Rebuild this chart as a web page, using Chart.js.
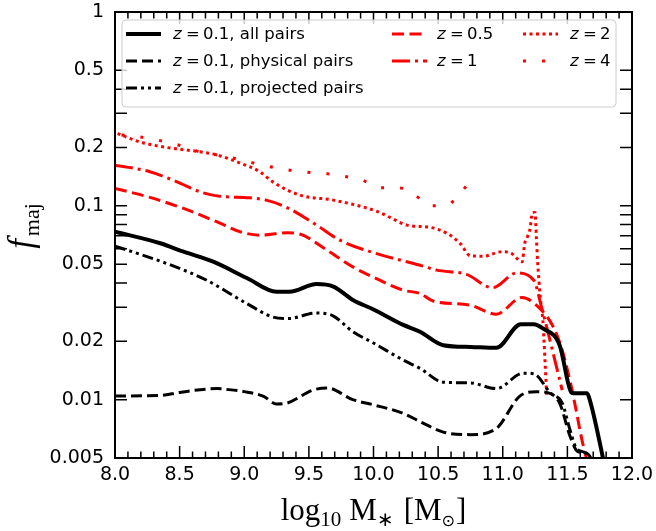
<!DOCTYPE html>
<html>
<head>
<meta charset="utf-8">
<script src="https://cdn.jsdelivr.net/npm/chart.js@4.4.1/dist/chart.umd.min.js"></script>
<style>
  html, body { margin: 0; padding: 0; background: #fff; }
  #wrap { width: 656px; height: 531px; }
</style>
</head>
<body>
<div id="wrap"><canvas id="chart" width="656" height="531"></canvas></div>
<script>
// 数据
const xTicks = [8.0, 8.5, 9.0, 9.5, 10.0, 10.5, 11.0, 11.5, 12.0]
const yTicks = [0.005, 0.01, 0.02, 0.05, 0.1, 0.2, 0.5, 1]
const yMinorTicks = [0.03, 0.04, 0.06, 0.07, 0.08, 0.09, 0.3, 0.4]

// z = 0.1, all pairs
const allX = [8.0, 8.35, 8.53, 8.76, 9.02, 9.25, 9.35, 9.56, 9.69, 9.84, 10.0, 10.23, 10.36, 10.54, 10.75, 10.95, 11.14, 11.24, 11.31, 11.44, 11.53, 11.545, 11.65, 11.665, 11.80]
const allF = [0.0735, 0.0641, 0.0580, 0.0515, 0.0424, 0.0360, 0.0360, 0.0395, 0.0383, 0.0327, 0.0292, 0.0243, 0.0224, 0.0191, 0.0187, 0.0185, 0.0245, 0.0245, 0.0233, 0.0191, 0.0109, 0.0108, 0.0108, 0.0104, 0.0042]

// z = 0.1, physical pairs
const physX = [8.0, 8.35, 8.5, 8.79, 8.86, 9.0, 9.15, 9.25, 9.33, 9.53, 9.64, 9.84, 10.0, 10.23, 10.36, 10.54, 10.75, 10.95, 11.13, 11.26, 11.34, 11.44, 11.52, 11.58, 11.65, 11.72]
const physF = [0.01045, 0.0105, 0.0109, 0.0114, 0.0113, 0.0110, 0.0104, 0.0095, 0.0096, 0.0112, 0.0115, 0.0100, 0.0094, 0.0085, 0.0077, 0.0068, 0.0066, 0.0071, 0.0104, 0.0110, 0.0109, 0.0096, 0.0065, 0.0054, 0.0053, 0.0045]

// z = 0.1, projected pairs
const projX = [8.0, 8.40, 8.71, 9.02, 9.22, 9.34, 9.56, 9.69, 9.84, 10.0, 10.23, 10.36, 10.54, 10.75, 10.95, 11.16, 11.24, 11.37, 11.46, 11.52, 11.57, 11.64, 11.70]
const projF = [0.0620, 0.0504, 0.0413, 0.0313, 0.0267, 0.0262, 0.0280, 0.0270, 0.0224, 0.0196, 0.0160, 0.0145, 0.0123, 0.0122, 0.0114, 0.0137, 0.0136, 0.0108, 0.0096, 0.0070, 0.0056, 0.0053, 0.0045]

// z = 0.5
const z05X = [8.0, 8.27, 8.53, 8.79, 8.97, 9.12, 9.33, 9.43, 9.64, 9.84, 10.0, 10.23, 10.36, 10.46, 10.75, 10.95, 11.15, 11.26, 11.39, 11.46, 11.53, 11.64, 11.68]
const z05F = [0.1230, 0.1105, 0.0970, 0.0826, 0.0734, 0.0706, 0.0726, 0.0715, 0.0591, 0.0484, 0.0428, 0.0367, 0.0353, 0.0323, 0.0307, 0.0276, 0.0337, 0.0307, 0.0238, 0.0180, 0.0117, 0.0052, 0.0045]

// z = 1
const z1X = [8.0, 8.27, 8.48, 8.66, 8.81, 9.04, 9.17, 9.33, 9.56, 9.74, 10.0, 10.23, 10.36, 10.49, 10.72, 10.92, 11.11, 11.24, 11.30, 11.46]
const z1F = [0.162, 0.150, 0.133, 0.118, 0.112, 0.110, 0.107, 0.098, 0.0795, 0.0665, 0.0573, 0.0520, 0.0494, 0.0466, 0.0443, 0.0378, 0.0451, 0.0413, 0.0300, 0.0112]

// z = 2
const z2X = [8.02, 8.19, 8.40, 8.66, 8.79, 8.97, 9.12, 9.22, 9.43, 9.69, 10.02, 10.13, 10.26, 10.44, 10.57, 10.67, 10.75, 10.85, 10.99, 11.06, 11.11, 11.15, 11.17, 11.19, 11.21, 11.23, 11.25, 11.26, 11.27, 11.29, 11.31, 11.34]
const z2F = [0.236, 0.214, 0.200, 0.190, 0.183, 0.166, 0.150, 0.133, 0.1136, 0.107, 0.094, 0.087, 0.0795, 0.0774, 0.072, 0.064, 0.0552, 0.0550, 0.0579, 0.0573, 0.0535, 0.0514, 0.064, 0.069, 0.0755, 0.092, 0.0925, 0.069, 0.0514, 0.0339, 0.0257, 0.0105]

// z = 4
const z4X = [8.05, 8.19, 8.35, 8.49, 8.63, 8.77, 8.92, 9.06, 9.20, 9.34, 9.48, 9.62, 9.77, 9.91, 10.05, 10.19, 10.32, 10.44, 10.58, 10.68, 10.76]
const z4F = [0.232, 0.227, 0.217, 0.206, 0.192, 0.184, 0.176, 0.167, 0.159, 0.153, 0.149, 0.147, 0.142, 0.136, 0.124, 0.124, 0.1136, 0.100, 0.102, 0.118, 0.137]

const RED = '#ff0000'
const BLACK = '#000000'
const LEG_FONT = '16.5px "DejaVu Sans"'

const pts = (xs, ys) => xs.map((x, i) => ({ x, y: ys[i] }))

// 线条样式
const series = [
  { key: 'all', label: ', all pairs', zText: '0.1', data: pts(allX, allF), color: BLACK, width: 4, dash: [] },
  { key: 'phys', label: ', physical pairs', zText: '0.1', data: pts(physX, physF), color: BLACK, width: 3, dash: [11, 5] },
  { key: 'proj', label: ', projected pairs', zText: '0.1', data: pts(projX, projF), color: BLACK, width: 3, dash: [11, 4, 3, 4, 3, 4] },
  { key: 'z05', label: '', zText: '0.5', data: pts(z05X, z05F), color: RED, width: 3, dash: [12, 5.5] },
  { key: 'z1', label: '', zText: '1', data: pts(z1X, z1F), color: RED, width: 3, dash: [18, 5, 3, 5] },
  { key: 'z2', label: '', zText: '2', data: pts(z2X, z2F), color: RED, width: 3, dash: [3, 3.5] },
  { key: 'z4', label: '', zText: '4', data: pts(z4X, z4F), color: RED, width: 3, dash: [3, 16] }
]

// 刻度与边框
const frameTicks = {
  id: 'frameTicks',
  afterDatasetsDraw (chart) {
    const { ctx, chartArea: a, scales: { x, y } } = chart
    ctx.save()
    ctx.strokeStyle = '#000'
    ctx.lineWidth = 1.5
    ctx.beginPath()
    for (let i = 0; i <= 40; i++) {
      const px = x.getPixelForValue(8 + i * 0.1)
      const len = i % 5 === 0 ? 12 : 6.5
      ctx.moveTo(px, a.bottom); ctx.lineTo(px, a.bottom - len)
      ctx.moveTo(px, a.top); ctx.lineTo(px, a.top + len)
    }
    yTicks.concat(yMinorTicks).forEach(v => {
      const py = y.getPixelForValue(v)
      ctx.moveTo(a.left, py); ctx.lineTo(a.left + 12, py)
      ctx.moveTo(a.right, py); ctx.lineTo(a.right - 12, py)
    })
    ctx.stroke()
    ctx.lineWidth = 2
    ctx.strokeRect(a.left, a.top, a.right - a.left, a.bottom - a.top)
    ctx.restore()
  }
}

function drawZText (ctx, x, y, s) {
  ctx.font = 'italic ' + LEG_FONT
  ctx.fillText('z', x, y)
  const w = ctx.measureText('z').width
  ctx.font = LEG_FONT
  ctx.fillText('\u2009=\u2009' + s.zText + s.label, x + w + 1, y)
}

// 图例（三列）
const legendBox = {
  id: 'legendBox',
  afterDraw (chart) {
    const { ctx } = chart
    ctx.save()
    const bx = 122, by = 20, bw = 494, bh = 87, r = 4
    ctx.beginPath()
    ctx.roundRect(bx, by, bw, bh, r)
    ctx.fillStyle = 'rgba(255,255,255,0.8)'
    ctx.fill()
    ctx.strokeStyle = '#cccccc'
    ctx.lineWidth = 1
    ctx.stroke()

    const cols = [[126, 173], [392, 437], [523, 570]]
    const rows = [34, 61, 88]
    const layout = [[0, 0], [0, 1], [0, 2], [1, 0], [1, 1], [2, 0], [2, 1]]
    ctx.textBaseline = 'middle'
    series.forEach((s, i) => {
      const [c, rIdx] = layout[i]
      const [lx, tx] = cols[c]
      const ly = rows[rIdx]
      ctx.beginPath()
      ctx.strokeStyle = s.color
      ctx.lineWidth = s.width
      ctx.lineCap = 'butt'
      ctx.setLineDash(s.dash)
      ctx.moveTo(lx, ly); ctx.lineTo(lx + 35, ly)
      ctx.stroke()
      ctx.setLineDash([])
      ctx.fillStyle = '#000'
      drawZText(ctx, tx, ly + 1, s)
    })
    ctx.restore()
  }
}

// 轴标题（带下标）
function drawPieces (ctx, pieces, cx, base) {
  let total = 0
  pieces.forEach(p => { ctx.font = p.font; p.w = ctx.measureText(p.t).width + (p.gap || 0); total += p.w })
  let x = cx - total / 2
  pieces.forEach(p => {
    ctx.font = p.font
    ctx.fillText(p.t, x, base + (p.dy || 0))
    x += p.w
  })
}

const axisTitles = {
  id: 'axisTitles',
  afterDraw (chart) {
    const { ctx, chartArea: a } = chart
    ctx.save()
    ctx.fillStyle = '#000'
    ctx.textBaseline = 'alphabetic'
    const big = '31px "Liberation Serif"'
    const sub = '21px "Liberation Serif"'
    drawPieces(ctx, [
      { t: 'log', font: big },
      { t: '10', font: sub, dy: 6, gap: 8 },
      { t: 'M', font: big },
      { t: '\u2217', font: '20px "DejaVu Sans"', dy: 6, gap: 10 },
      { t: '[M', font: big },
      { t: '\u2299', font: '16px "DejaVu Sans"', dy: 6, gap: 1 },
      { t: ']', font: big }
    ], (a.left + a.right) / 2, 520)

    ctx.translate(32, 226)
    ctx.rotate(-Math.PI / 2)
    drawPieces(ctx, [
      { t: 'f', font: 'italic 35px "Liberation Serif"', gap: 3 },
      { t: 'maj', font: '22px "Liberation Serif"', dy: 7 }
    ], 0, 0)
    ctx.restore()
  }
}

new Chart(document.getElementById('chart').getContext('2d'), {
  type: 'line',
  data: {
    datasets: series.map(s => ({
      label: s.key,
      data: s.data,
      borderColor: s.color,
      borderWidth: s.width,
      borderDash: s.dash,
      borderCapStyle: 'butt',
      borderJoinStyle: 'round',
      pointRadius: 0,
      fill: false,
      cubicInterpolationMode: 'monotone',
      clip: 0
    }))
  },
  options: {
    responsive: false,
    animation: false,
    layout: { padding: { left: 0, right: 24, top: 12, bottom: 0 } },
    plugins: { legend: { display: false }, tooltip: { enabled: false } },
    scales: {
      x: {
        type: 'linear',
        min: 8,
        max: 12,
        afterBuildTicks: scale => { scale.ticks = xTicks.map(v => ({ value: v })) },
        afterFit: scale => { scale.height = 73; scale.paddingLeft = 0; scale.paddingRight = 0 },
        grid: { display: false, drawTicks: false },
        border: { display: false },
        ticks: {
          color: '#000',
          font: { family: 'DejaVu Sans', size: 19 },
          padding: 6,
          maxRotation: 0,
          autoSkip: false,
          callback: v => v.toFixed(1)
        }
      },
      y: {
        type: 'logarithmic',
        min: 0.005,
        max: 1,
        afterBuildTicks: scale => { scale.ticks = yTicks.map(v => ({ value: v })) },
        afterFit: scale => { scale.width = 115; scale.paddingTop = 0; scale.paddingBottom = 0 },
        grid: { display: false, drawTicks: false },
        border: { display: false },
        ticks: {
          color: '#000',
          font: { family: 'DejaVu Sans', size: 19 },
          padding: 11,
          autoSkip: false,
          callback: v => String(v)
        }
      }
    }
  },
  plugins: [frameTicks, legendBox, axisTitles]
})
</script>
</body>
</html>
